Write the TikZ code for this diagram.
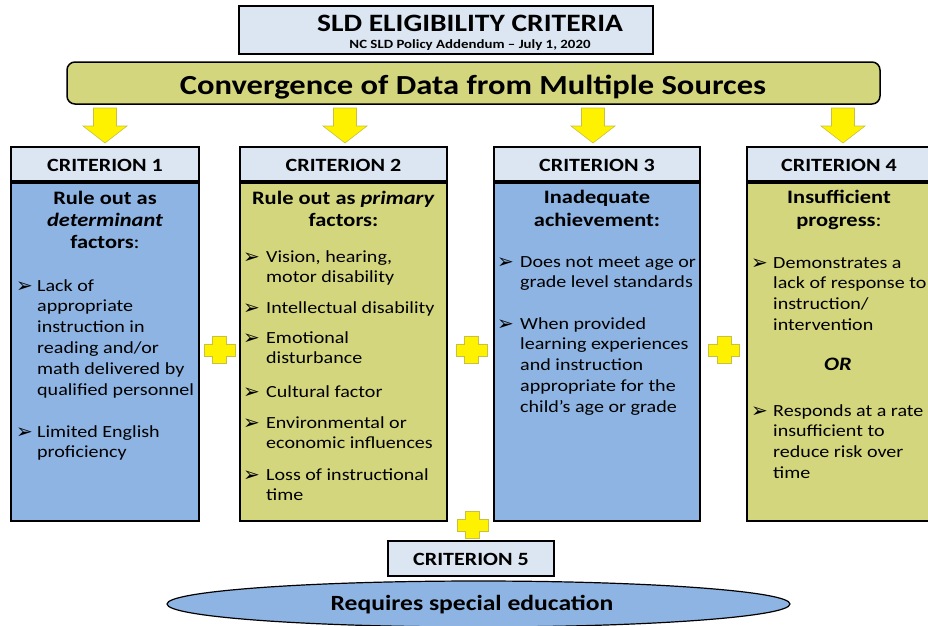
\documentclass[tikz,border=0pt]{standalone}
\usepackage{fontspec}
\setmainfont{Carlito}[FakeStretch=1.18]
\newfontfamily\dvfont{DejaVu Sans}
\usetikzlibrary{shapes.geometric}
\definecolor{cblue}{HTML}{8DB4E2}
\definecolor{cgreen}{HTML}{D4D67E}
\definecolor{chead}{HTML}{DCE6F2}
\definecolor{yedge}{HTML}{C8C040}
\newcommand\bodyfont{\fontsize{17}{20.8}\selectfont}
\tikzset{
  boxline/.style={draw=black, line width=1.5pt, inner sep=0pt, outer sep=0pt},
  hdrbox/.style={boxline, fill=chead},
  bluebox/.style={boxline, fill=cblue},
  greenbox/.style={boxline, fill=cgreen},
  hdrtxt/.style={anchor=base, inner sep=0pt, font=\fontsize{18.7}{21}\selectfont\bfseries},
  headtxt/.style={anchor=base, inner sep=0pt, font=\fontsize{19}{22}\selectfont\bfseries},
  itemtxt/.style={anchor=base west, inner sep=0pt, font=\bodyfont},
  bultxt/.style={anchor=base west, inner sep=0pt, yshift=-2pt, font=\dvfont\fontsize{20}{20}\selectfont},
  pics/downarr/.style={code={
    \filldraw[fill=yellow, draw=yedge, line width=0.6pt]
      (-11.5,0) -- (11.5,0) -- (11.5,18) -- (22,18) -- (0,35) -- (-22,18) -- (-11.5,18) -- cycle;}},
  pics/plussign/.style={code={
    \filldraw[fill=yellow, draw=yedge, line width=0.6pt]
      (-7,-13.5) -- (7,-13.5) -- (7,-6) -- (15.5,-6) -- (15.5,6) -- (7,6) -- (7,13.5)
      -- (-7,13.5) -- (-7,6) -- (-15.5,6) -- (-15.5,-6) -- (-7,-6) -- cycle;}}
}
\newcommand\lines[1]{\begin{tabular}[t]{@{}l@{}}#1\end{tabular}}
\begin{document}
\begin{tikzpicture}[x=1pt, y=-1pt]
\useasboundingbox (0,0) rectangle (928,625);
\clip (0,0) rectangle (928,625);

% title
\node[hdrbox, minimum width=414pt, minimum height=48pt] (titlebox) at (446,30) {};
\node[anchor=base, inner sep=0pt, font=\fontsize{25}{28}\selectfont\bfseries] (title) at (470,31) {SLD ELIGIBILITY CRITERIA};
\node[anchor=base, inner sep=0pt, font=\fontsize{12.6}{14}\selectfont\bfseries] (subtitle) at (470,48) {NC SLD Policy Addendum – July 1, 2020};

% banner
\node[greenbox, rounded corners=8pt, minimum width=813pt, minimum height=42pt] (banner) at (473.5,83) {};
\node[anchor=base, inner sep=0pt, font=\fontsize{27.6}{30}\selectfont\bfseries] (bannertxt) at (473,94) {Convergence of Data from Multiple Sources};

% arrows
\pic at (105,108) {downarr};
\pic at (345,108) {downarr};
\pic at (593,108) {downarr};
\pic at (843,108) {downarr};

% headers
\node[hdrbox, minimum width=188pt, minimum height=34pt] (h1) at (105,164) {};
\node[hdrbox, minimum width=207pt, minimum height=34pt] (h2) at (343.5,164) {};
\node[hdrbox, minimum width=206pt, minimum height=34pt] (h3) at (597,164) {};
\node[hdrbox, minimum width=184pt, minimum height=34pt] (h4) at (839,164) {};
\node[hdrtxt] (h1t) at (105,171) {CRITERION 1};
\node[hdrtxt] (h2t) at (343.5,171) {CRITERION 2};
\node[hdrtxt] (h3t) at (597,171) {CRITERION 3};
\node[hdrtxt] (h4t) at (839,171) {CRITERION 4};

% bodies
\node[bluebox, minimum width=188pt, minimum height=338pt] (b1) at (105,352) {};
\node[greenbox, minimum width=207pt, minimum height=338pt] (b2) at (343.5,352) {};
\node[bluebox, minimum width=206pt, minimum height=338pt] (b3) at (597,352) {};
\node[greenbox, minimum width=184pt, minimum height=338pt] (b4) at (839,352) {};

% column 1
\node[headtxt] (c1h1) at (105,204) {Rule out as};
\node[headtxt] (c1h2) at (105,226) {\itshape determinant};
\node[headtxt] (c1h3) at (105,248) {factors\textmd{:}};
\node[bultxt] (c1b1) at (16,290) {➢};
\node[itemtxt] (c1i1) at (37,291) {\lines{Lack of\\appropriate\\instruction in\\reading and/or\\math delivered by\\qualified personnel}};
\node[bultxt] (c1b2) at (16,436) {➢};
\node[itemtxt] (c1i2) at (37,437) {\lines{Limited English\\proficiency}};

% column 2
\node[headtxt] (c2h1) at (343.5,204) {Rule out as \textit{primary}};
\node[headtxt] (c2h2) at (343.5,226) {factors:};
\node[bultxt] (c2b1) at (243,261) {➢};
\node[itemtxt] (c2i1) at (266,262) {\lines{Vision, hearing,\\motor disability}};
\node[bultxt] (c2b2) at (243,312) {➢};
\node[itemtxt] (c2i2) at (266,313) {Intellectual disability};
\node[bultxt] (c2b3) at (243,342) {➢};
\node[itemtxt] (c2i3) at (266,343) {\lines{Emotional\\disturbance}};
\node[bultxt] (c2b4) at (243,396) {➢};
\node[itemtxt] (c2i4) at (266,397) {Cultural factor};
\node[bultxt] (c2b5) at (243,427) {➢};
\node[itemtxt] (c2i5) at (266,428) {\lines{Environmental or\\economic influences}};
\node[bultxt] (c2b6) at (243,479) {➢};
\node[itemtxt] (c2i6) at (266,480) {\lines{Loss of instructional\\time}};

% column 3
\node[headtxt] (c3h1) at (597,203) {Inadequate};
\node[headtxt] (c3h2) at (597,226) {achievement:};
\node[bultxt] (c3b1) at (497,266) {➢};
\node[itemtxt] (c3i1) at (520,267) {\lines{Does not meet age or\\grade level standards}};
\node[bultxt] (c3b2) at (497,328) {➢};
\node[itemtxt] (c3i2) at (520,329) {\lines{When provided\\learning experiences\\and instruction\\appropriate for the\\child’s age or grade}};

% column 4
\node[headtxt] (c4h1) at (839,203) {Insufficient};
\node[headtxt] (c4h2) at (839,226) {progress\textmd{:}};
\node[bultxt] (c4b1) at (751,267) {➢};
\node[itemtxt] (c4i1) at (773,268) {\lines{Demonstrates a\\lack of response to\\instruction/\\intervention}};
\node[headtxt] (c4or) at (838,370) {\itshape OR};
\node[bultxt] (c4b2) at (751,415) {➢};
\node[itemtxt] (c4i2) at (773,416) {\lines{Responds at a rate\\insufficient to\\reduce risk over\\time}};

% plus signs
\pic at (219.5,350) {plussign};
\pic at (471.5,350) {plussign};
\pic at (724,350) {plussign};
\pic at (472.5,525) {plussign};

% criterion 5
\node[hdrbox, minimum width=166pt, minimum height=35pt] (h5) at (471,558.5) {};
\node[hdrtxt] (h5t) at (471,565) {CRITERION 5};
\node[ellipse, draw=black, line width=1.2pt, fill=cblue, minimum width=623pt, minimum height=46pt, inner sep=0pt] (ell) at (478.5,604) {};
\node[anchor=base, inner sep=0pt, font=\fontsize{21.7}{24}\selectfont\bfseries] (elltxt) at (472,610) {Requires special education};
\end{tikzpicture}
\end{document}
